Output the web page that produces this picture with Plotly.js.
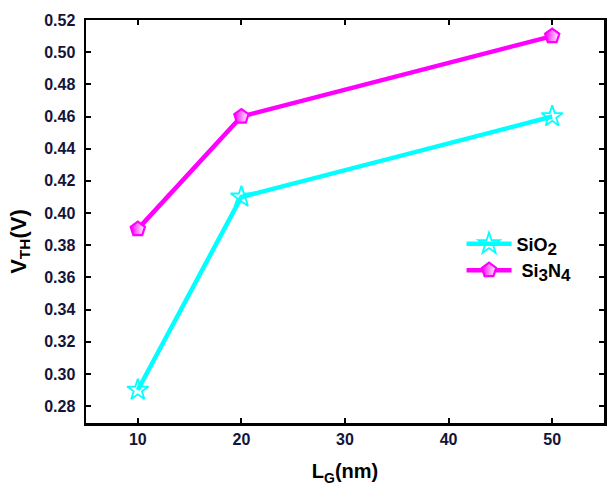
<!DOCTYPE html>
<html>
<head>
<meta charset="utf-8">
<script src="https://cdn.plot.ly/plotly-3.0.1.min.js"></script>
<style>html,body{margin:0;padding:0;background:#fff;}#chart{width:607px;height:492px;}</style>
</head>
<body>
<div id="chart"></div>
<script>
const gateLength = [10, 20, 50];
const vthSiO2 = [0.29, 0.41, 0.46];
const vthSi3N4 = [0.39, 0.46, 0.51];
const seriesNames = ['SiO<sub><span style="font-size:17px">2</span></sub>',
                     ' Si<sub><span style="font-size:17px">3</span></sub>N<sub><span style="font-size:17px">4</span></sub>'];
const xTicks = [10, 20, 30, 40, 50];
const yTicks = [0.28, 0.30, 0.32, 0.34, 0.36, 0.38, 0.40, 0.42, 0.44, 0.46, 0.48, 0.50, 0.52];

const fam = 'Liberation Sans, Arial, sans-serif';
const tickFont = {family: fam, size: 16, color: '#14143a', weight: 'bold'};

const traces = [
  {x: gateLength, y: vthSiO2, name: seriesNames[0], mode: 'lines+markers',
   line: {color: '#00FFFF', width: 4.5},
   marker: {symbol: 'star-open', size: 16, color: '#00FFFF', line: {width: 1.8, color: '#00FFFF'}}},
  {x: gateLength, y: vthSi3N4, name: seriesNames[1], mode: 'lines+markers',
   line: {color: '#FF00FF', width: 4.5},
   marker: {symbol: 'pentagon', size: 15, color: '#FF00FF',
            gradient: {type: 'horizontal', color: '#FFFFFF'},
            line: {width: 2.2, color: '#FF00FF'}}}
];

const axisCommon = {
  showline: true, linecolor: '#000', linewidth: 2.5, mirror: 'ticks',
  ticks: 'inside', ticklen: 5, tickwidth: 2, tickcolor: '#000',
  showgrid: false, zeroline: false, tickfont: tickFont
};

const layout = {
  width: 607, height: 492,
  margin: {l: 86, r: 3, t: 20, b: 69},
  paper_bgcolor: '#fff', plot_bgcolor: '#fff',
  showlegend: true,
  legend: {x: 0.725, y: 0.49, xanchor: 'left', yanchor: 'top', bgcolor: 'rgba(0,0,0,0)',
           itemwidth: 45,
           font: {family: fam, size: 18, color: '#000', weight: 'bold'},
           tracegroupgap: 12},
  xaxis: Object.assign({}, axisCommon, {
    range: [5, 55], tickvals: xTicks, ticktext: xTicks.map(String),
    title: {text: 'L<sub>G</sub>(nm)', standoff: 18,
            font: {family: fam, size: 20, color: '#000', weight: 'bold'}}
  }),
  yaxis: Object.assign({}, axisCommon, {
    range: [0.2695, 0.52], tickvals: yTicks, ticktext: yTicks.map(v => v.toFixed(2)),
    ticklabelstandoff: 5
  }),
  annotations: [{
    text: 'V<sub>TH</sub>(V)', textangle: -90, showarrow: false,
    xref: 'paper', yref: 'paper', x: -0.129, y: 0.45, xanchor: 'center', yanchor: 'middle',
    font: {family: fam, size: 22, color: '#000', weight: 'bold'}
  }]
};

Plotly.newPlot('chart', traces, layout, {displayModeBar: false, staticPlot: true});
</script>
</body>
</html>
